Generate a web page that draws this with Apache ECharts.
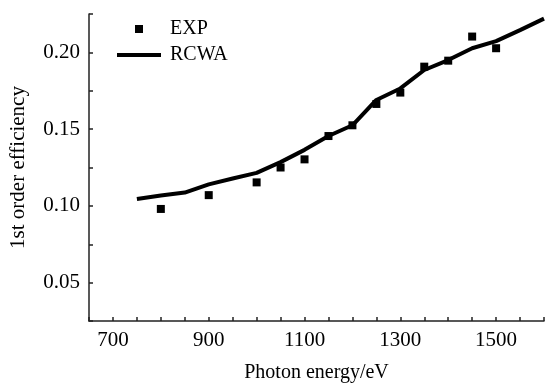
<!DOCTYPE html>
<html>
<head>
<meta charset="UTF-8">
<title>1st order efficiency</title>
<style>
html,body{margin:0;padding:0;background:#fff;}
</style>
</head>
<body>
<div id="main" style="width:547px;height:383px;"></div>
<script src="https://cdn.jsdelivr.net/npm/echarts@6/dist/echarts.min.js"></script>
<script>
// measured points (EXP)
var expEnergy = [800, 900, 1000, 1050, 1100, 1150, 1200, 1250, 1300, 1350, 1400, 1450, 1500];
var expEff = [0.098, 0.107, 0.1153, 0.125, 0.1303, 0.1455, 0.1525, 0.1664, 0.1738, 0.1907, 0.1946, 0.2103, 0.2027];

// simulation (RCWA)
var rcwaEnergy = [750, 800, 850, 900, 950, 1000, 1050, 1100, 1150, 1200, 1250, 1300, 1350, 1400, 1450, 1500, 1550, 1600];
var rcwaEff = [0.1045, 0.1068, 0.1087, 0.1140, 0.1178, 0.1215, 0.1285, 0.1365, 0.1455, 0.1525, 0.1690, 0.1765, 0.1885, 0.1950, 0.2027, 0.2073, 0.2145, 0.2220];

var xLabels = [700, 900, 1100, 1300, 1500];
var yLabels = [0.05, 0.10, 0.15, 0.20];

var font = 'Liberation Serif';

function pairs(xs, ys) {
	var out = [];
	for (var i = 0; i < xs.length; i++) out.push([xs[i], ys[i]]);
	return out;
}

var myChart = echarts.init(document.getElementById('main'));

myChart.setOption({
	animation: false,
	grid: { left: 89, right: 3, top: 14, bottom: 62, outerBoundsMode: 'none', containLabel: false },
	legend: {
		orient: 'vertical',
		left: 117,
		top: 19,
		padding: 0,
		itemGap: 6,
		itemWidth: 44,
		itemHeight: 8,
		symbolKeepAspect: true,
		itemStyle: { opacity: 1 },
		textStyle: { fontFamily: font, fontSize: 20, color: '#000', lineHeight: 20, padding: [0, 0, 0, 4] },
		data: [
			{ name: 'EXP', icon: 'path://M0,0L10,0L10,10L0,10Z' },
			{ name: 'RCWA', icon: 'path://M0,0L44,0L44,4L0,4Z' }
		]
	},
	xAxis: {
		type: 'value',
		min: 650,
		max: 1600,
		interval: 50,
		name: 'Photon energy/eV',
		nameLocation: 'middle',
		nameGap: 42,
		nameTextStyle: { fontFamily: font, fontSize: 20, color: '#000' },
		axisLine: { lineStyle: { color: '#222', width: 1.5 } },
		axisTick: { inside: true, length: 4, lineStyle: { color: '#222', width: 1.5 } },
		axisLabel: {
			margin: 9,
			fontFamily: font, fontSize: 21, color: '#000',
			formatter: function (v) { return xLabels.indexOf(v) >= 0 ? String(v) : ''; }
		},
		splitLine: { show: false }
	},
	yAxis: {
		type: 'value',
		min: 0.025,
		max: 0.225,
		interval: 0.025,
		name: '1st order efficiency',
		nameLocation: 'middle',
		nameGap: 60,
		nameTextStyle: { fontFamily: font, fontSize: 21, color: '#000' },
		axisLine: { show: true, lineStyle: { color: '#222', width: 1.5 } },
		axisTick: { show: true, inside: true, length: 4, lineStyle: { color: '#222', width: 1.5 } },
		axisLabel: {
			margin: 9,
			fontFamily: font, fontSize: 21, color: '#000',
			formatter: function (v) {
				for (var i = 0; i < yLabels.length; i++) {
					if (Math.abs(v - yLabels[i]) < 1e-6) return yLabels[i].toFixed(2);
				}
				return '';
			}
		},
		splitLine: { show: false }
	},
	series: [
		{
			name: 'EXP',
			type: 'scatter',
			symbol: 'rect',
			symbolSize: 8,
			itemStyle: { color: '#000', opacity: 1 },
			data: pairs(expEnergy, expEff),
			z: 3
		},
		{
			name: 'RCWA',
			type: 'line',
			symbol: 'none',
			lineStyle: { color: '#000', width: 4 },
			itemStyle: { color: '#000' },
			data: pairs(rcwaEnergy, rcwaEff),
			z: 2
		}
	]
});
</script>
</body>
</html>
